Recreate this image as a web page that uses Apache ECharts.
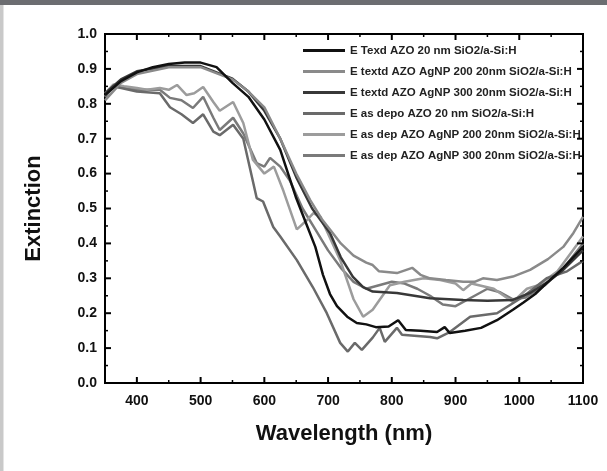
<!DOCTYPE html>
<html>
<head>
<meta charset="utf-8">
<script src="https://cdn.jsdelivr.net/npm/echarts@6/dist/echarts.min.js"></script>
<style>
  html, body { margin: 0; padding: 0; background: #fff; }
  #chart { width: 607px; height: 471px; }
</style>
</head>
<body>
<div id="chart"></div>
<script>
// wavelength (nm) / extinction pairs
const texdAzo = [[350,0.825],[375,0.865],[400,0.89],[425,0.905],[450,0.914],[475,0.918],[500,0.918],[525,0.905],[550,0.86],[575,0.82],[600,0.755],[625,0.668],[650,0.53],[665,0.46],[680,0.39],[692,0.31],[703,0.255],[714,0.22],[730,0.19],[745,0.172],[760,0.168],[775,0.16],[795,0.162],[810,0.18],[822,0.152],[845,0.15],[871,0.146],[883,0.16],[891,0.143],[915,0.15],[940,0.158],[965,0.18],[990,0.21],[1006,0.23],[1025,0.255],[1043,0.286],[1069,0.33],[1100,0.39]];
const textdAg200 = [[350,0.81],[375,0.86],[400,0.885],[450,0.905],[500,0.905],[550,0.87],[575,0.835],[600,0.79],[625,0.7],[650,0.6],[672,0.524],[690,0.47],[703,0.44],[720,0.4],[740,0.365],[760,0.345],[770,0.338],[780,0.32],[808,0.315],[832,0.33],[845,0.31],[860,0.3],[885,0.295],[912,0.29],[930,0.29],[943,0.3],[965,0.295],[990,0.305],[1017,0.324],[1045,0.355],[1069,0.39],[1085,0.43],[1100,0.476]];
const textdAg300 = [[350,0.83],[375,0.87],[400,0.893],[450,0.908],[500,0.908],[550,0.872],[575,0.835],[600,0.78],[625,0.7],[650,0.59],[675,0.5],[703,0.43],[720,0.36],[739,0.304],[755,0.275],[770,0.262],[808,0.258],[860,0.243],[912,0.238],[950,0.236],[990,0.238],[1017,0.258],[1045,0.29],[1069,0.324],[1100,0.38]];
const asDepAzo = [[350,0.82],[363,0.85],[400,0.835],[436,0.83],[452,0.79],[470,0.77],[488,0.745],[504,0.77],[520,0.72],[530,0.71],[551,0.74],[567,0.7],[588,0.53],[598,0.52],[614,0.447],[625,0.42],[651,0.352],[676,0.275],[698,0.2],[719,0.115],[731,0.09],[742,0.115],[753,0.095],[770,0.13],[781,0.158],[789,0.118],[808,0.158],[816,0.138],[840,0.135],[860,0.132],[871,0.128],[891,0.146],[923,0.19],[965,0.2],[1006,0.247],[1043,0.3],[1075,0.32],[1100,0.35]];
const asDepAg200 = [[350,0.83],[363,0.855],[380,0.85],[400,0.845],[416,0.84],[436,0.845],[450,0.84],[463,0.854],[478,0.825],[490,0.83],[504,0.848],[520,0.805],[530,0.78],[551,0.805],[567,0.745],[582,0.64],[600,0.6],[615,0.62],[630,0.55],[651,0.44],[667,0.467],[677,0.487],[688,0.476],[719,0.352],[740,0.24],[755,0.19],[770,0.21],[797,0.28],[820,0.29],[850,0.3],[876,0.295],[900,0.285],[912,0.266],[925,0.285],[960,0.27],[990,0.232],[1012,0.27],[1030,0.28],[1060,0.32],[1100,0.42]];
const asDepAg300 = [[350,0.82],[363,0.85],[400,0.84],[436,0.84],[452,0.817],[470,0.81],[488,0.788],[504,0.82],[520,0.76],[530,0.725],[551,0.76],[567,0.715],[588,0.63],[600,0.62],[609,0.645],[625,0.62],[640,0.58],[660,0.5],[680,0.44],[700,0.38],[720,0.33],[740,0.29],[760,0.27],[780,0.28],[800,0.29],[820,0.285],[840,0.27],[860,0.25],[880,0.225],[900,0.22],[930,0.25],[950,0.27],[970,0.26],[990,0.24],[1010,0.245],[1040,0.28],[1070,0.33],[1100,0.4]];

const seriesNames = [
    'E Texd AZO 20 nm SiO2/a-Si:H',
    'E textd AZO AgNP 200 20nm SiO2/a-Si:H',
    'E textd AZO AgNP 300 20nm SiO2/a-Si:H',
    'E as depo AZO 20 nm SiO2/a-Si:H',
    'E as dep AZO AgNP 200 20nm SiO2/a-Si:H',
    'E as dep AZO AgNP 300 20nm SiO2/a-Si:H'
];
const seriesColors = ['#111111', '#8a8a8a', '#383838', '#6a6a6a', '#9c9c9c', '#7a7a7a'];
const seriesData = [texdAzo, textdAg200, textdAg300, asDepAzo, asDepAg200, asDepAg300];

// axis range and tick values
const xMin = 350, xMax = 1100, yMin = 0, yMax = 1;
const xMajor = [400, 500, 600, 700, 800, 900, 1000, 1100];
const xMinor = [450, 550, 650, 750, 850, 950, 1050];
const yMajor = [0.1, 0.2, 0.3, 0.4, 0.5, 0.6, 0.7, 0.8, 0.9];
const yMinor = [0.05, 0.15, 0.25, 0.35, 0.45, 0.55, 0.65, 0.75, 0.85, 0.95];

// tick list for the frame: [value, kind] kind 0 x major, 1 x minor, 2 y major, 3 y minor
const tickList = []
    .concat(xMajor.map(v => [v, 0]))
    .concat(xMinor.map(v => [v, 1]))
    .concat(yMajor.map(v => [v, 2]))
    .concat(yMinor.map(v => [v, 3]));

var chart = echarts.init(document.getElementById('chart'), null, { renderer: 'canvas' });

const labelFont = { fontFamily: 'Liberation Sans, Arial', fontWeight: 'bold', fontSize: 14, color: '#111' };

// inward ticks on all four sides of the frame, placed through the axes' own coord mapping
function renderTick(params, api) {
    const v = api.value(0);
    const kind = api.value(1);
    const len = kind % 2 === 0 ? 6 : 3;
    const w = kind % 2 === 0 ? 2 : 1.5;
    const style = { stroke: '#000', lineWidth: w };
    let a, b, lines;
    if (kind < 2) {
        a = api.coord([v, yMin]);
        b = api.coord([v, yMax]);
        lines = [[a[0], a[1], a[0], a[1] - len], [b[0], b[1], b[0], b[1] + len]];
    } else {
        a = api.coord([xMin, v]);
        b = api.coord([xMax, v]);
        lines = [[a[0], a[1], a[0] + len, a[1]], [b[0], b[1], b[0] - len, b[1]]];
    }
    return {
        type: 'group',
        children: lines.map(l => ({
            type: 'line',
            shape: { x1: l[0], y1: l[1], x2: l[2], y2: l[3] },
            style: style
        }))
    };
}

var option = {
    backgroundColor: '#fff',
    animation: false,
    grid: { left: 105, right: 24, top: 34, bottom: 88, show: true, borderColor: '#000', borderWidth: 2, backgroundColor: 'transparent' },
    legend: {
        orient: 'vertical',
        left: 303,
        top: 44,
        padding: 0,
        icon: 'rect',
        itemWidth: 42,
        itemHeight: 3,
        itemGap: 8,
        textStyle: { fontFamily: 'Liberation Sans, Arial', fontWeight: 'bold', fontSize: 11.5, color: '#222', lineHeight: 13 },
        data: seriesNames
    },
    xAxis: {
        type: 'value', min: xMin, max: xMax, position: 'bottom',
        name: 'Wavelength (nm)', nameLocation: 'middle', nameGap: 40,
        nameTextStyle: { fontFamily: 'Liberation Sans, Arial', fontWeight: 'bold', fontSize: 22, color: '#111' },
        axisLine: { show: true, onZero: false, lineStyle: { color: '#000', width: 2 } },
        axisTick: { show: false },
        axisLabel: Object.assign({ margin: 11, customValues: xMajor, formatter: v => String(v) }, labelFont),
        splitLine: { show: false }
    },
    yAxis: {
        type: 'value', min: yMin, max: yMax, interval: 0.1, position: 'left',
        name: 'Extinction', nameLocation: 'middle', nameGap: 60, nameRotate: 90,
        nameTextStyle: { fontFamily: 'Liberation Sans, Arial', fontWeight: 'bold', fontSize: 22, color: '#111' },
        axisLine: { show: true, onZero: false, lineStyle: { color: '#000', width: 2 } },
        axisTick: { show: false },
        axisLabel: Object.assign({ margin: 8, formatter: v => v.toFixed(1) }, labelFont),
        splitLine: { show: false }
    },
    graphic: [
        { type: 'rect', left: 0, top: 0, shape: { width: 607, height: 5 }, style: { fill: '#6c6d71' }, z: 100 },
        { type: 'rect', left: 0, top: 5, shape: { width: 3, height: 466 }, style: { fill: '#c9c9c9' }, z: 100 },
        { type: 'rect', left: 3, top: 5, shape: { width: 1, height: 466 }, style: { fill: '#e4e4e4' }, z: 100 }
    ],
    series: seriesNames.map((name, i) => ({
        name: name,
        type: 'line',
        data: seriesData[i],
        symbol: 'none',
        showSymbol: false,
        smooth: false,
        color: seriesColors[i],
        lineStyle: { color: seriesColors[i], width: 2.5 },
        z: 10 - i
    })).concat([{
        name: 'frameTicks',
        type: 'custom',
        renderItem: renderTick,
        data: tickList,
        clip: false,
        silent: true,
        z: 20
    }])
};

chart.setOption(option);
</script>
</body>
</html>
